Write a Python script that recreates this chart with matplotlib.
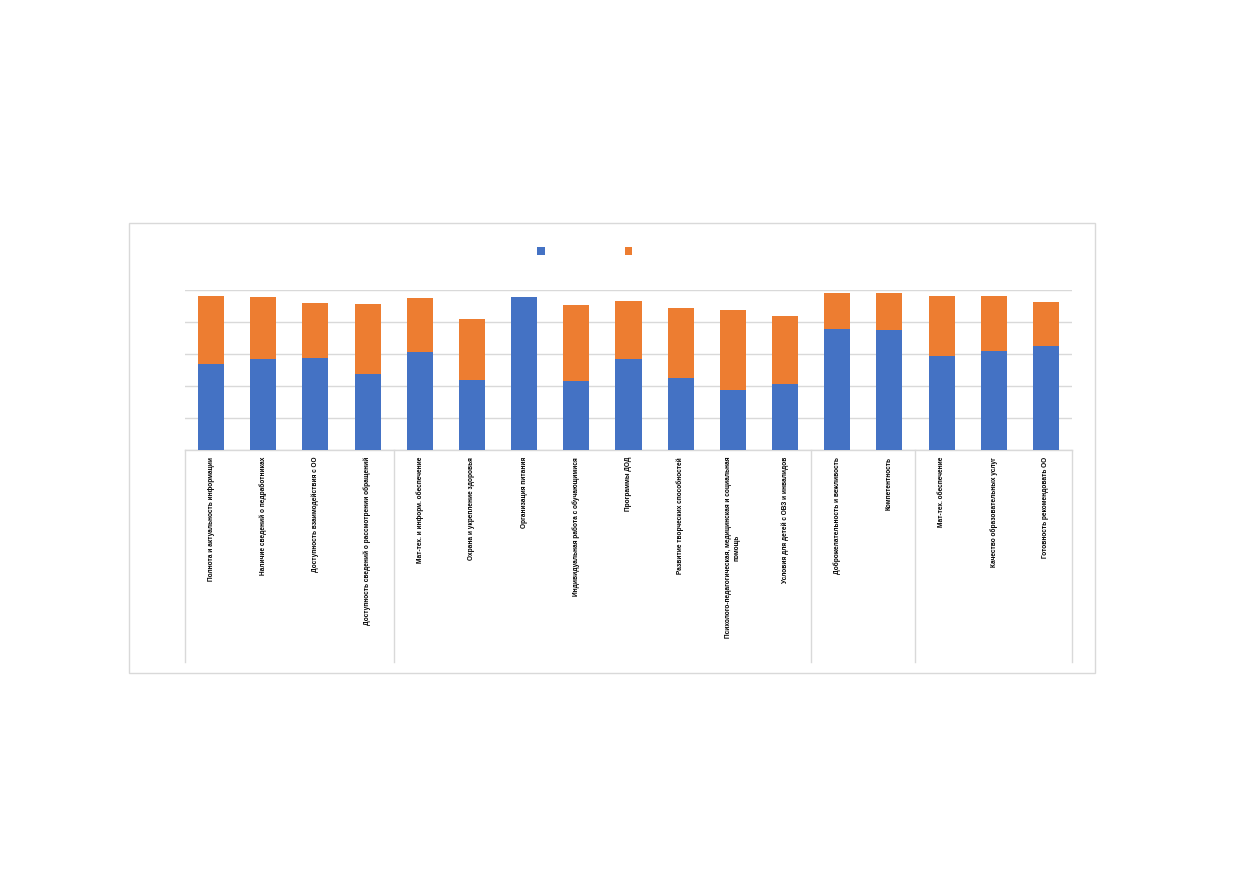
import matplotlib
matplotlib.use("Agg")
import matplotlib.pyplot as plt
from matplotlib.patches import Rectangle
import matplotlib.transforms as mtransforms

categories = [
    "Полнота и актуальность информации",
    "Наличие сведений о педработниках",
    "Доступность взаимодействия с ОО",
    "Доступность сведений о рассмотрении обращений",
    "Мат-тех. и информ. обеспечение",
    "Охрана и укрепление здоровья",
    "Организация питания",
    "Индивидуальная работа с обучающимися",
    "Программы ДОД",
    "Развитие творческих способностей",
    "Психолого-педагогическая, медицинская и социальная\nпомощь",
    "Условия для детей с ОВЗ и инвалидов",
    "Доброжелательность и вежливость",
    "Компетентность",
    "Мат-тех. обеспечение",
    "Качество образовательных услуг",
    "Готовность рекомендовать ОО",
]
blue_values = [53.6, 56.9, 57.5, 47.7, 61.4, 43.6, 95.4, 43.3, 57.1,
               45.2, 37.7, 41.4, 75.8, 74.8, 58.8, 62.1, 65.2]
total_values = [96.4, 95.4, 91.7, 91.1, 95.0, 81.7, 95.4, 90.4, 93.1,
                88.6, 87.3, 83.9, 97.9, 98.1, 96.4, 96.1, 92.7]
orange_values = [t - b for t, b in zip(total_values, blue_values)]
group_sizes = [4, 8, 2, 3]

W, H = 1239, 872
fig = plt.figure(figsize=(W / 100, H / 100), dpi=100)

# chart border
fig.patches.append(Rectangle((129 / W, 1 - 673 / H), (1095 - 129) / W, (673 - 223) / H,
                             transform=fig.transFigure, fill=False,
                             edgecolor="#d9d9d9", linewidth=1.0))

ax = fig.add_axes([185 / W, 1 - 450 / H, (1072 - 185) / W, (450 - 290) / H])
x = list(range(len(categories)))
b1 = ax.bar(x, blue_values, width=0.5, color="#4472C4", label=" ", zorder=3)
b2 = ax.bar(x, orange_values, width=0.5, bottom=blue_values, color="#ED7D31",
            label=" ", zorder=3)

ax.set_xlim(-0.5, len(categories) - 0.5)
ax.set_ylim(0, 100)
ax.set_yticks([0, 20, 40, 60, 80, 100])
ax.set_yticklabels([])
ax.tick_params(axis="y", length=0)
ax.grid(axis="y", color="#d9d9d9", linewidth=1.0, zorder=0)
for s in ["left", "right", "top"]:
    ax.spines[s].set_visible(False)
ax.spines["bottom"].set_color("#d9d9d9")
ax.spines["bottom"].set_linewidth(1.0)

ax.set_xticks(x)
ax.set_xticklabels(categories, rotation=90, fontsize=4.7, fontweight="bold",
                   family=["Liberation Sans", "DejaVu Sans"], color="black",
                   multialignment="center")
ax.tick_params(axis="x", length=0, pad=5)

# group separators
trans = mtransforms.blended_transform_factory(ax.transData, ax.transAxes)
bottom_axes = -(662 - 450) / (450 - 290)
pos = -0.5
seps = [pos]
for g in group_sizes:
    pos += g
    seps.append(pos)
for s in seps:
    ax.plot([s, s], [0, bottom_axes], transform=trans, color="#d9d9d9",
            linewidth=1.0, clip_on=False)

leg = fig.legend(handles=[b1, b2], labels=["", ""], loc="center",
                 bbox_to_anchor=(587 / W, 1 - 252 / H), ncol=2, frameon=False,
                 fontsize=9, handlelength=0.6, handleheight=0.6,
                 handletextpad=0.4, columnspacing=6.0)

fig.savefig("out.png", dpi=100)
